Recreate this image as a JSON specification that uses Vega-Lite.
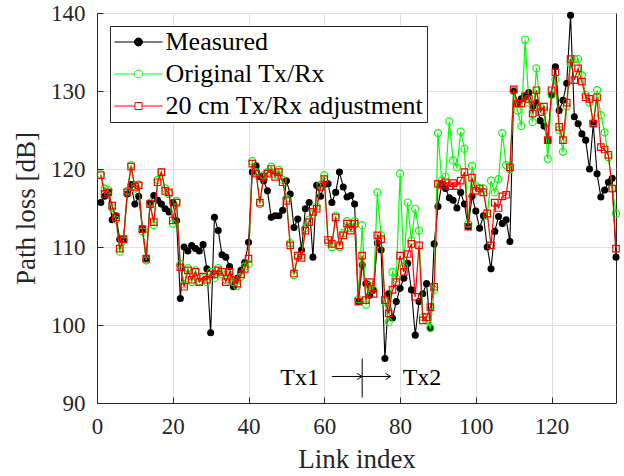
{
  "$schema": "https://vega.github.io/schema/vega-lite/v6.json",
  "width": 519,
  "height": 390,
  "autosize": {"type": "none"},
  "padding": {"left": 97, "top": 13, "right": 8, "bottom": 73},
  "background": "white",
  "config": {
    "font": "Liberation Serif",
    "view": {"stroke": "#262626", "strokeWidth": 1},
    "axis": {
      "labelFont": "Liberation Serif", "titleFont": "Liberation Serif",
      "labelFontSize": 23, "titleFontSize": 27, "titleFontWeight": "normal",
      "labelColor": "#262626", "titleColor": "#262626",
      "domainColor": "#262626", "tickColor": "#262626",
      "gridColor": "#dfdfdf", "gridWidth": 1
    },
    "legend": {
      "orient": "top-left", "offset": 13,
      "strokeColor": "#262626", "fillColor": "white", "padding": 3,
      "labelFont": "Liberation Serif", "labelFontSize": 26, "labelColor": "#000000", "labelLimit": 500,
      "symbolSize": 64, "symbolStrokeWidth": 1, "symbolOpacity": 1,
      "symbolOffset": 12.5, "labelOffset": 14, "rowPadding": 6
    }
  },
  "datasets": {
    "d": [
      {"i":1,"m":115.7,"o":119.3,"a":119.2},{"i":2,"m":116.5,"o":117.5,"a":116.8},{"i":3,"m":117.0,"o":117.3,"a":117.0},
      {"i":4,"m":113.5,"o":115.0,"a":115.3},{"i":5,"m":114.0,"o":113.5,"a":113.8},{"i":6,"m":111.0,"o":109.4,"a":109.8},
      {"i":7,"m":111.0,"o":110.8,"a":111.0},{"i":8,"m":116.8,"o":117.2,"a":117.0},{"i":9,"m":118.0,"o":120.5,"a":120.3},
      {"i":10,"m":115.5,"o":117.5,"a":117.7},{"i":11,"m":116.5,"o":118.0,"a":117.9},{"i":12,"m":112.3,"o":112.0,"a":112.3},
      {"i":13,"m":108.5,"o":108.3,"a":108.5},{"i":14,"m":115.6,"o":115.7,"a":115.5},{"i":15,"m":116.6,"o":112.8,"a":113.2},
      {"i":16,"m":116.0,"o":118.6,"a":118.3},{"i":17,"m":115.5,"o":119.6,"a":119.6},{"i":18,"m":114.9,"o":117.5,"a":117.2},
      {"i":19,"m":114.5,"o":116.8,"a":117.0},{"i":20,"m":115.7,"o":113.0,"a":113.4},{"i":21,"m":113.4,"o":115.9,"a":115.7},
      {"i":22,"m":103.4,"o":107.8,"a":107.4},{"i":23,"m":110.0,"o":105.2,"a":104.9},{"i":24,"m":109.5,"o":107.3,"a":107.0},
      {"i":25,"m":110.2,"o":105.5,"a":105.8},{"i":26,"m":109.8,"o":107.0,"a":106.8},{"i":27,"m":109.5,"o":105.6,"a":105.5},
      {"i":28,"m":110.3,"o":106.0,"a":106.2},{"i":29,"m":107.2,"o":105.5,"a":105.8},{"i":30,"m":99.0,"o":106.8,"a":106.5},
      {"i":31,"m":113.8,"o":106.0,"a":106.5},{"i":32,"m":112.1,"o":107.3,"a":107.0},{"i":33,"m":109.0,"o":106.5,"a":106.8},
      {"i":34,"m":108.7,"o":105.8,"a":105.5},{"i":35,"m":107.5,"o":106.5,"a":106.8},{"i":36,"m":104.9,"o":105.5,"a":105.8},
      {"i":37,"m":106.0,"o":105.0,"a":105.3},{"i":38,"m":107.0,"o":106.2,"a":106.5},{"i":39,"m":108.0,"o":107.5,"a":107.2},
      {"i":40,"m":110.6,"o":107.8,"a":108.5},{"i":41,"m":119.6,"o":121.0,"a":120.7},{"i":42,"m":120.4,"o":119.6,"a":119.4},
      {"i":43,"m":119.0,"o":115.5,"a":115.7},{"i":44,"m":118.5,"o":119.2,"a":119.0},{"i":45,"m":117.2,"o":119.6,"a":119.4},
      {"i":46,"m":113.8,"o":120.3,"a":120.0},{"i":47,"m":114.0,"o":119.3,"a":119.0},{"i":48,"m":114.0,"o":119.9,"a":119.6},
      {"i":49,"m":114.7,"o":118.6,"a":118.3},{"i":50,"m":118.5,"o":116.2,"a":115.9},{"i":51,"m":116.8,"o":110.5,"a":110.2},
      {"i":52,"m":112.5,"o":106.4,"a":106.6},{"i":53,"m":113.6,"o":108.7,"a":108.9},{"i":54,"m":109.6,"o":108.9,"a":108.6},
      {"i":55,"m":114.9,"o":112.4,"a":112.1},{"i":56,"m":115.7,"o":113.5,"a":113.2},{"i":57,"m":108.7,"o":114.2,"a":114.5},
      {"i":58,"m":117.9,"o":115.2,"a":114.9},{"i":59,"m":116.5,"o":118.0,"a":117.7},{"i":60,"m":118.0,"o":119.2,"a":118.7},
      {"i":61,"m":118.1,"o":110.6,"a":110.9},{"i":62,"m":115.7,"o":110.0,"a":110.4},{"i":63,"m":117.0,"o":114.0,"a":113.8},
      {"i":64,"m":119.6,"o":110.0,"a":110.2},{"i":65,"m":117.7,"o":111.8,"a":111.5},{"i":66,"m":116.4,"o":113.3,"a":113.0},
      {"i":67,"m":116.6,"o":112.4,"a":112.1},{"i":68,"m":115.5,"o":113.3,"a":113.0},{"i":69,"m":103.0,"o":103.3,"a":103.0},
      {"i":70,"m":107.7,"o":112.8,"a":108.9},{"i":71,"m":105.3,"o":102.6,"a":103.2},{"i":72,"m":103.8,"o":105.0,"a":105.5},
      {"i":73,"m":104.5,"o":104.5,"a":104.0},{"i":74,"m":110.5,"o":117.0,"a":111.5},{"i":75,"m":109.6,"o":111.5,"a":111.0},
      {"i":76,"m":95.7,"o":103.0,"a":103.2},{"i":77,"m":104.0,"o":100.4,"a":101.5},{"i":78,"m":100.9,"o":106.8,"a":104.5},
      {"i":79,"m":103.0,"o":106.0,"a":105.5},{"i":80,"m":104.7,"o":119.4,"a":108.9},{"i":81,"m":106.0,"o":107.5,"a":106.8},
      {"i":82,"m":107.9,"o":115.7,"a":109.1},{"i":83,"m":104.5,"o":110.8,"a":110.4},{"i":84,"m":98.7,"o":114.9,"a":103.6},
      {"i":85,"m":103.0,"o":112.1,"a":110.2},{"i":86,"m":104.0,"o":101.0,"a":100.6},{"i":87,"m":105.3,"o":100.6,"a":101.0},
      {"i":88,"m":99.6,"o":99.6,"a":102.3},{"i":89,"m":110.4,"o":104.5,"a":104.9},{"i":90,"m":115.2,"o":124.6,"a":118.1},
      {"i":91,"m":118.0,"o":118.5,"a":118.0},{"i":92,"m":117.5,"o":119.0,"a":118.3},{"i":93,"m":116.3,"o":126.1,"a":117.8},
      {"i":94,"m":116.0,"o":121.1,"a":118.2},{"i":95,"m":115.0,"o":120.2,"a":117.8},{"i":96,"m":117.0,"o":124.8,"a":118.5},
      {"i":97,"m":115.5,"o":122.6,"a":119.6},{"i":98,"m":112.6,"o":113.0,"a":112.6},{"i":99,"m":116.5,"o":120.4,"a":118.9},
      {"i":100,"m":114.6,"o":117.8,"a":117.2},{"i":101,"m":112.4,"o":117.5,"a":117.5},{"i":102,"m":114.0,"o":117.5,"a":117.0},
      {"i":103,"m":110.0,"o":114.0,"a":114.3},{"i":104,"m":107.2,"o":118.5,"a":110.2},{"i":105,"m":112.0,"o":117.0,"a":115.7},
      {"i":106,"m":113.9,"o":118.7,"a":115.0},{"i":107,"m":113.0,"o":124.6,"a":116.5},{"i":108,"m":113.5,"o":120.5,"a":116.7},
      {"i":109,"m":110.7,"o":120.0,"a":120.2},{"i":110,"m":130.0,"o":130.0,"a":130.2},{"i":111,"m":128.5,"o":127.5,"a":128.4},
      {"i":112,"m":129.0,"o":125.5,"a":128.4},{"i":113,"m":129.4,"o":136.6,"a":129.3},{"i":114,"m":129.8,"o":128.5,"a":129.0},
      {"i":115,"m":128.0,"o":126.0,"a":127.1},{"i":116,"m":128.5,"o":132.9,"a":130.1},{"i":117,"m":126.2,"o":128.0,"a":127.3},
      {"i":118,"m":125.5,"o":127.5,"a":128.0},{"i":119,"m":123.7,"o":121.3,"a":123.7},{"i":120,"m":129.5,"o":129.5,"a":130.1},
      {"i":121,"m":133.1,"o":131.5,"a":132.4},{"i":122,"m":127.5,"o":125.0,"a":125.4},{"i":123,"m":128.8,"o":122.2,"a":123.7},
      {"i":124,"m":131.0,"o":128.0,"a":128.5},{"i":125,"m":139.7,"o":133.5,"a":134.1},{"i":126,"m":126.7,"o":134.1,"a":131.4},
      {"i":127,"m":125.8,"o":134.1,"a":132.9},{"i":128,"m":124.5,"o":132.0,"a":131.2},{"i":129,"m":123.7,"o":129.5,"a":129.2},
      {"i":130,"m":120.0,"o":128.5,"a":129.0},{"i":131,"m":125.8,"o":126.0,"a":125.8},{"i":132,"m":119.4,"o":130.1,"a":129.2},
      {"i":133,"m":116.4,"o":126.9,"a":122.8},{"i":134,"m":117.3,"o":124.7,"a":122.5},{"i":135,"m":118.3,"o":121.5,"a":121.8},
      {"i":136,"m":118.8,"o":117.5,"a":117.5},{"i":137,"m":108.7,"o":114.3,"a":109.8}
    ]
  },
  "data": {"name": "d"},
  "encoding": {
    "x": {
      "field": "i", "type": "quantitative", "title": "Link index",
      "scale": {"domain": [0, 137], "nice": false, "zero": false},
      "axis": {"values": [0, 20, 40, 60, 80, 100, 120], "grid": true, "tickSize": -6, "labelPadding": 18, "titlePadding": 8, "labelFlush": false}
    }
  },
  "layer": [
    {
      "mark": {"type": "line", "color": "black", "strokeWidth": 1.1},
      "encoding": {"y": {"field": "m", "type": "quantitative", "title": "Path loss [dB]",
        "scale": {"domain": [90, 140], "nice": false, "zero": false},
        "axis": {"values": [90, 100, 110, 120, 130, 140], "grid": true, "tickSize": -6, "labelPadding": 18, "titlePadding": 10, "labelFlush": false}}}
    },
    {
      "mark": {"type": "point", "shape": "circle", "filled": true, "color": "black", "size": 50, "opacity": 1},
      "encoding": {"y": {"field": "m", "type": "quantitative", "title": "Path loss [dB]"}}
    },
    {
      "mark": {"type": "line", "color": "#00ff00", "strokeWidth": 1.2},
      "encoding": {"y": {"field": "o", "type": "quantitative", "title": "Path loss [dB]"}}
    },
    {
      "mark": {"type": "point", "shape": "circle", "filled": false, "color": "#00ff00", "size": 50, "strokeWidth": 1.2, "opacity": 1},
      "encoding": {"y": {"field": "o", "type": "quantitative", "title": "Path loss [dB]"}}
    },
    {
      "mark": {"type": "line", "color": "#ff0000", "strokeWidth": 1.2},
      "encoding": {"y": {"field": "a", "type": "quantitative", "title": "Path loss [dB]"}}
    },
    {
      "mark": {"type": "point", "shape": "square", "filled": false, "color": "#ff0000", "size": 42, "strokeWidth": 1.2, "opacity": 1},
      "encoding": {"y": {"field": "a", "type": "quantitative", "title": "Path loss [dB]"}}
    },
    {
      "data": {"values": [{"i": 70, "i2": 70, "v": 90.7, "v2": 95.7}, {"i": 62, "i2": 70, "v": 93.4, "v2": 93.4}, {"i": 70, "i2": 77.5, "v": 93.4, "v2": 93.4}]},
      "mark": {"type": "rule", "color": "black", "strokeWidth": 1},
      "encoding": {"x2": {"field": "i2"}, "y": {"field": "v", "type": "quantitative"}, "y2": {"field": "v2"}}
    },
    {
      "data": {"values": [{"i": 70, "v": 93.4}, {"i": 77.5, "v": 93.4}]},
      "mark": {"type": "point", "shape": "M -5 -3 L 0 0 L -5 3", "size": 4, "filled": false, "color": "black", "strokeWidth": 1, "opacity": 1},
      "encoding": {"y": {"field": "v", "type": "quantitative"}}
    },
    {
      "data": {"values": [{"i": 53.5, "v": 93.2, "t": "Tx1"}, {"i": 85.8, "v": 93.2, "t": "Tx2"}]},
      "mark": {"type": "text", "font": "Liberation Serif", "fontSize": 24, "color": "black", "align": "center", "baseline": "middle"},
      "encoding": {"y": {"field": "v", "type": "quantitative"}, "text": {"field": "t"}}
    },
    {
      "data": {"values": [{"s": "Measured"}, {"s": "Original Tx/Rx"}, {"s": "20 cm Tx/Rx adjustment"}]},
      "transform": [{"filter": "false"}],
      "mark": {"type": "point", "strokeWidth": 1, "opacity": 1},
      "encoding": {
        "x": null,
        "shape": {"field": "s", "type": "nominal", "title": null,
          "scale": {"domain": ["Measured", "Original Tx/Rx", "20 cm Tx/Rx adjustment"],
            "range": ["M -6 0 L 6 0 M 1 0 A 1 1 0 1 1 -1 0 A 1 1 0 1 1 1 0 Z",
                      "M -6 0 L -1 0 M 1 0 L 6 0 M 1 0 A 1 1 0 1 1 -1 0 A 1 1 0 1 1 1 0 Z",
                      "M -6 0 L -0.875 0 M 0.875 0 L 6 0 M -0.875 -0.875 L 0.875 -0.875 L 0.875 0.875 L -0.875 0.875 Z"]},
          "legend": {"title": null}},
        "stroke": {"field": "s", "type": "nominal", "title": null,
          "scale": {"domain": ["Measured", "Original Tx/Rx", "20 cm Tx/Rx adjustment"], "range": ["#000000", "#00ff00", "#ff0000"]},
          "legend": {"title": null}},
        "fill": {"field": "s", "type": "nominal", "title": null,
          "scale": {"domain": ["Measured", "Original Tx/Rx", "20 cm Tx/Rx adjustment"], "range": ["#000000", "#ffffff", "#ffffff"]},
          "legend": {"title": null}}
      }
    }
  ]
}
